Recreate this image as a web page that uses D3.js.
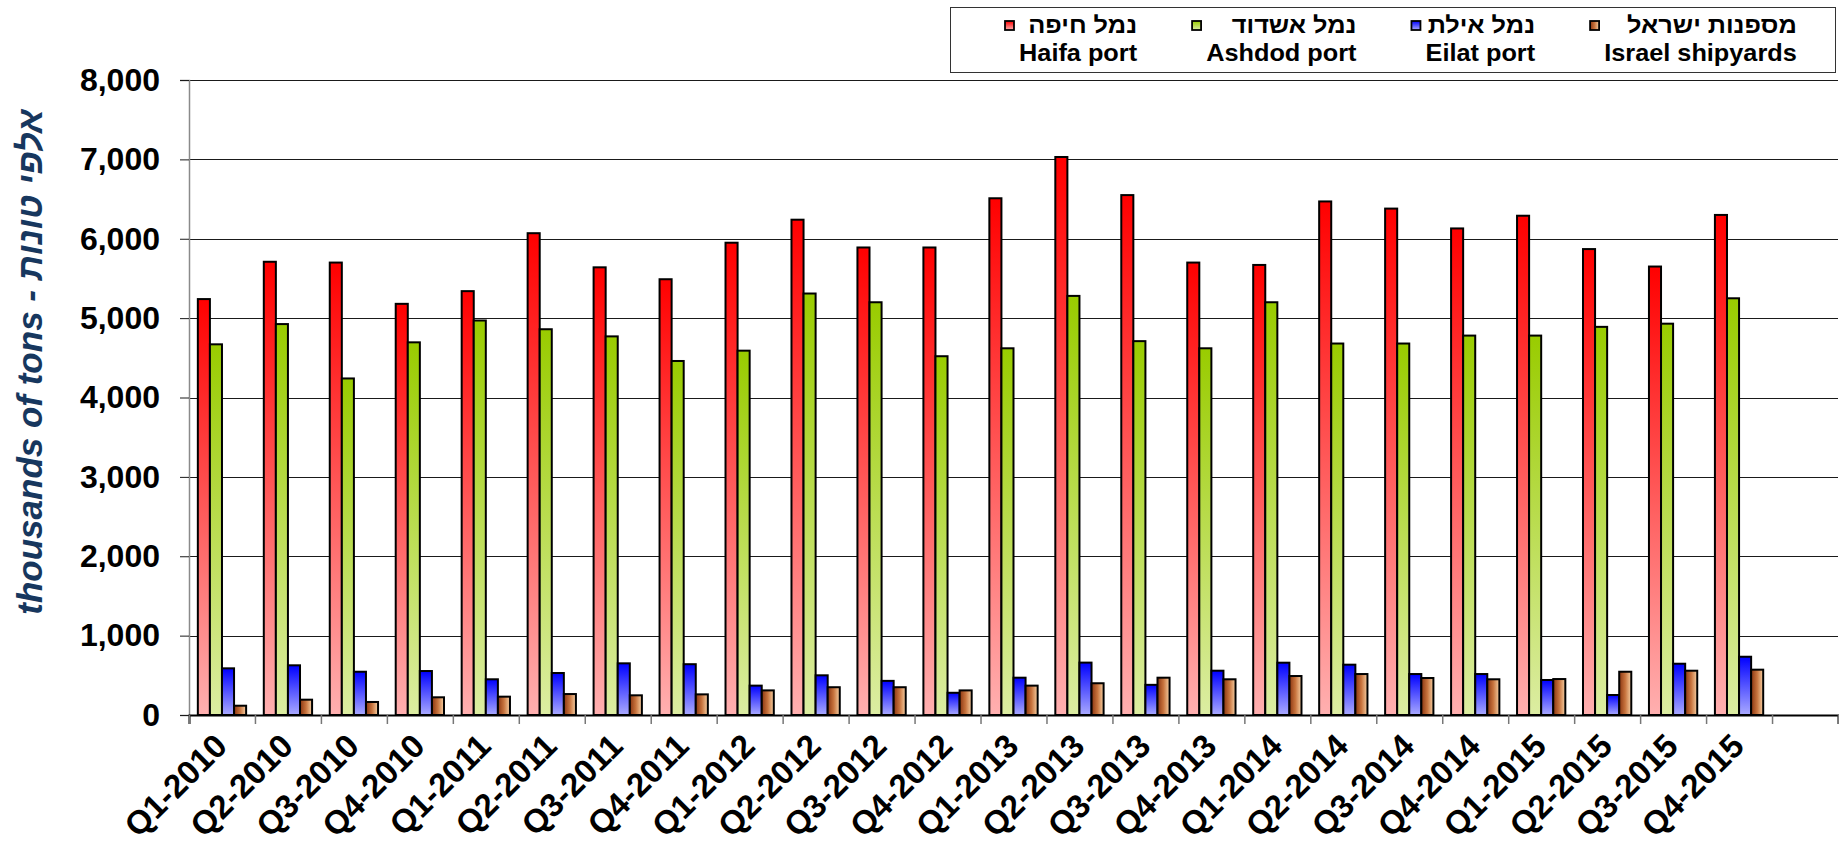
<!DOCTYPE html>
<html><head><meta charset="utf-8">
<script src="https://cdn.jsdelivr.net/npm/d3@7"></script>
<style>
html,body{margin:0;padding:0;background:#fff;}
svg{display:block;font-family:"Liberation Sans",Arial,sans-serif;}
</style></head>
<body>
<svg id="chart" width="1839" height="843"></svg>
<script>
// ---------- data ----------
const categories = ["Q1-2010","Q2-2010","Q3-2010","Q4-2010","Q1-2011","Q2-2011","Q3-2011","Q4-2011",
  "Q1-2012","Q2-2012","Q3-2012","Q4-2012","Q1-2013","Q2-2013","Q3-2013","Q4-2013",
  "Q1-2014","Q2-2014","Q3-2014","Q4-2014","Q1-2015","Q2-2015","Q3-2015","Q4-2015"];
const haifa     = [5240,5710,5700,5180,5340,6070,5640,5490,5950,6240,5890,5890,6510,7030,6550,5700,5670,6470,6380,6130,6290,5870,5650,6300];
const ashdod    = [4670,4925,4240,4695,4970,4860,4770,4460,4590,5310,5200,4520,4620,5280,4710,4620,5200,4680,4680,4780,4780,4890,4930,5250];
const eilat     = [588,626,545,554,450,529,651,640,370,500,430,280,470,660,380,558,659,634,516,516,441,252,646,734];
const shipyards = [117,193,164,223,231,264,248,260,310,350,350,310,370,400,470,450,491,516,466,450,453,545,558,571];
const seriesHebrew  = ["נמל חיפה","נמל אשדוד","נמל אילת","מספנות ישראל"];
const seriesEnglish = ["Haifa port","Ashdod port","Eilat port","Israel shipyards"];
const yTicks = [0,1000,2000,3000,4000,5000,6000,7000,8000];
const yTitle = "thousands of tons - אלפי טונות";

// ---------- layout ----------
const svg = d3.select("#chart");
const L = 189, R = 1838, T = 80, B = 715;
const nSlots = categories.length + 1;
const slot = (R - L) / nSlots;
const series = [haifa, ashdod, eilat, shipyards];
const keys = [0,1,2,3];

const x = d3.scaleBand().domain(categories).range([L, L + slot*categories.length]).padding(0);
const groupW = x.bandwidth()*0.732;
const xi = d3.scaleBand().domain(keys).range([0, groupW]).padding(0);
const y = d3.scaleLinear().domain([0, 8000]).range([B, T]);

// gradients
const defs = svg.append("defs");
function vgrad(id, top, bottom){
  const g = defs.append("linearGradient").attr("id", id).attr("x1",0).attr("y1",0).attr("x2",0).attr("y2",1);
  g.append("stop").attr("offset","0%").attr("stop-color",top);
  g.append("stop").attr("offset","100%").attr("stop-color",bottom);
}
vgrad("g0","#ff0000","#ffb0b0");
vgrad("g1","#99cc00","#dcedA2");
vgrad("g2","#0000ff","#aaaaff");
(function(){
  const g = defs.append("linearGradient").attr("id","g3").attr("x1",0).attr("y1",0).attr("x2",1).attr("y2",0);
  g.append("stop").attr("offset","0%").attr("stop-color","#8a3510");
  g.append("stop").attr("offset","50%").attr("stop-color","#c8743e");
  g.append("stop").attr("offset","100%").attr("stop-color","#f6d0a4");
})();

// gridlines
svg.append("g").selectAll("line").data(yTicks.filter(d=>d>0)).join("line")
  .attr("x1", L).attr("x2", R).attr("y1", d=>Math.round(y(d))+0.5).attr("y2", d=>Math.round(y(d))+0.5)
  .attr("stroke","#1a1a1a").attr("stroke-width",1);

// y axis
const yAxis = svg.append("g").attr("transform",`translate(${L},0)`)
  .call(d3.axisLeft(y).tickValues(yTicks).tickFormat(d3.format(",")).tickSize(9).tickPadding(20));
yAxis.select(".domain").attr("stroke","#8a8a8a").attr("stroke-width",1.5);
yAxis.selectAll(".tick line").attr("stroke","#1a1a1a");
yAxis.selectAll("text").attr("font-size",32).attr("font-weight","bold").attr("fill","#000")
  .attr("font-family",'"Liberation Sans",Arial,sans-serif');

// bars
const groups = svg.append("g").selectAll("g").data(categories).join("g")
  .attr("transform", c => `translate(${x(c) + (x.bandwidth()-groupW)/2},0)`);
groups.selectAll("rect").data((c,i) => keys.map(k => ({k, v: series[k][i]}))).join("rect")
  .attr("x", d => xi(d.k)).attr("width", xi.bandwidth())
  .attr("y", d => y(d.v)).attr("height", d => y(0) - y(d.v))
  .attr("fill", d => `url(#g${d.k})`).attr("stroke","#000").attr("stroke-width",2);

// x axis
const xLin = d3.scaleLinear().domain([0, nSlots]).range([L, R]);
const xAxis = svg.append("g").attr("transform",`translate(0,${B})`)
  .call(d3.axisBottom(xLin).tickValues(d3.range(nSlots+1)).tickFormat("").tickSize(9));
xAxis.select(".domain").attr("stroke","#000").attr("stroke-width",2);
xAxis.selectAll(".tick line").attr("stroke","#777").attr("stroke-width",1.5);

svg.append("g").selectAll("text").data(categories).join("text")
  .attr("transform", c => `translate(${x(c)+x.bandwidth()/2+7},${B+33}) rotate(-45)`)
  .attr("text-anchor","end").attr("font-size",33).attr("font-weight","bold").attr("fill","#000")
  .text(c => c);

// y title
svg.append("text").attr("transform",`translate(42,362) rotate(-90)`)
  .attr("text-anchor","middle").attr("font-size",35).attr("font-weight","bold").attr("font-style","italic")
  .attr("fill","#17375e").text(yTitle);

// legend
const lg = svg.append("g");
lg.append("rect").attr("x",950.5).attr("y",7.5).attr("width",885).attr("height",65)
  .attr("fill","#fff").attr("stroke","#333").attr("stroke-width",1);
const stretch = 1.1, fs = 23;
let mx = 1005;
keys.forEach(k => {
  const tmp1 = lg.append("text").attr("font-size",fs).attr("font-weight","bold").text(seriesEnglish[k]);
  const tmp2 = lg.append("text").attr("font-size",fs).attr("font-weight","bold").text(seriesHebrew[k]);
  const w = Math.max(tmp1.node().getComputedTextLength(), tmp2.node().getComputedTextLength())*stretch;
  tmp1.remove(); tmp2.remove();
  lg.append("rect").attr("x", mx).attr("y", 21).attr("width", 9).attr("height", 9)
    .attr("fill", `url(#g${k})`).attr("stroke","#000").attr("stroke-width",1.8);
  const tr = mx + 14 + w;
  lg.append("text").attr("transform",`translate(${tr},33) scale(${stretch},1)`)
    .attr("text-anchor","end").attr("font-size",fs).attr("font-weight","bold").attr("fill","#000").text(seriesHebrew[k]);
  lg.append("text").attr("transform",`translate(${tr},61) scale(${stretch},1)`)
    .attr("text-anchor","end").attr("font-size",fs).attr("font-weight","bold").attr("fill","#000").text(seriesEnglish[k]);
  mx = tr + 55;
});
</script>
</body></html>
